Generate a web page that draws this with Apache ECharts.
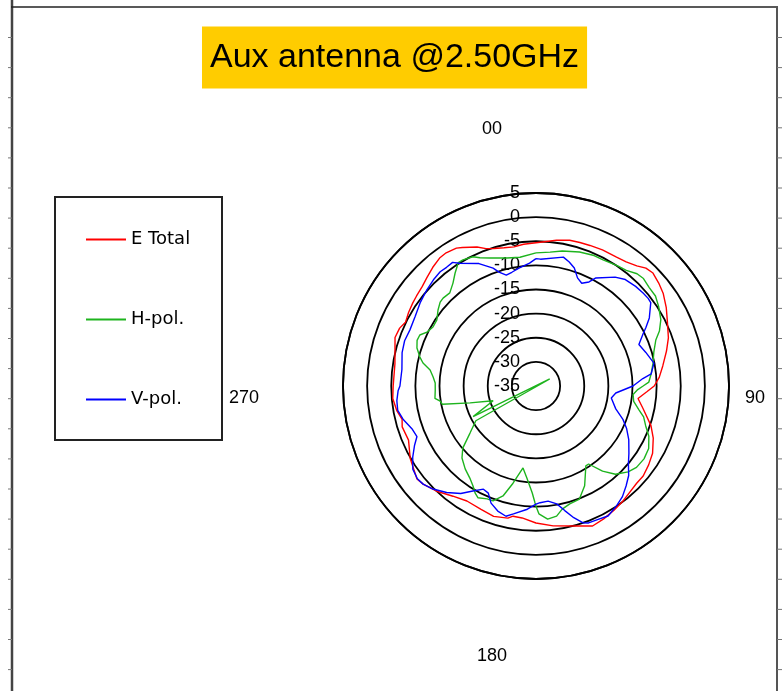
<!DOCTYPE html>
<html>
<head>
<meta charset="utf-8">
<script src="https://cdn.jsdelivr.net/npm/echarts@6/dist/echarts.min.js"></script>
<style>
html,body{margin:0;padding:0;background:#fff;}
#chart{width:782px;height:691px;}
</style>
</head>
<body>
<div id="chart"></div>
<script>
// ---- data (angle in degrees, level in dB) ----
const titleText = 'Aux antenna @2.50GHz';
const seriesNames = ['E Total', 'H-pol.', 'V-pol.'];
const angleTickLabels = ['00', '90', '180', '270'];
const radiusMin = -35, radiusMax = 5, radiusStep = 5;

const eTotal = [
  [0,-5.3],[8,-4.5],[13,-4.0],[17,-3.9],[21,-3.8],[26,-3.6],[32,-3.5],[36,-3.2],[40,-2.5],
  [43,-1.6],[46,-1.3],[50,-1.8],[54,-2.4],[59,-3.5],[64,-4.7],[70,-5.8],[75,-7.0],[81,-8.4],
  [86,-9.4],[90,-10.5],[93,-12.0],[97,-13.7],[102,-12.3],[109,-9.8],[114,-8.4],[120,-7.1],
  [125,-6.5],[130,-6.0],[134,-6.0],[139,-5.6],[143,-5.1],[148,-4.6],[153,-4.1],[158,-3.7],
  [164,-4.8],[173,-5.8],[180,-6.6],[186,-7.5],[190,-7.6],[192,-7.0],[198,-6.6],[204,-7.0],
  [211,-7.2],[217,-6.4],[223,-5.1],[229,-4.0],[232,-3.7],[240,-4.9],[247,-6.3],[253,-6.0],
  [256,-6.4],[260,-5.7],[265,-5.2],[270,-5.4],[279,-5.4],[289,-4.1],[293,-4.3],[296,-4.9],
  [300,-4.5],[304,-4.2],[307,-4.0],[311,-3.7],[315,-3.1],[319,-2.4],[323,-1.8],[326,-1.7],
  [330,-2.0],[332,-2.5],[337,-3.7],[340,-4.7],[343,-5.2],[347,-5.6],[351,-5.8],[355,-5.5],
  [360,-5.3]
];

const hPol = [
  [0,-7.4],[6,-7.1],[11,-6.5],[18,-5.8],[24,-5.4],[28,-5.4],[34,-4.9],[38,-4.6],[42,-3.7],
  [45,-3.5],[49,-3.9],[53,-4.0],[57,-4.7],[62,-5.7],[66,-7.0],[69,-8.4],[74,-9.6],[79,-10.3],
  [84,-11.0],[88,-11.6],[90,-12.8],[92,-13.9],[95,-14.8],[99,-14.5],[103,-13.1],[106,-11.8],
  [110,-10.8],[114,-9.4],[119,-8.3],[124,-8.0],[129,-8.2],[133,-8.9],[138,-10.4],[142,-12.6],
  [146,-15.5],[148,-15.5],[154,-12.0],[159,-9.9],[164,-9.6],[168,-8.9],[171,-7.7],[175,-7.3],
  [178.7,-8.5],[180,-10.1],[180.5,-10.8],[182,-12.8],[185.6,-15.8],[189,-17.8],[193.3,-14.3],
  [196.7,-11.2],[200.5,-9.6],[203.4,-9.5],[207.4,-8.9],[209.7,-9.5],[212.2,-10.5],[215.7,-11.5],
  [220.5,-12.4],[225.8,-13.6],[229.7,-15.1],[234.5,-18.2],[240,-20.6],[243,-38.2],[244,-20.5],
  [251,-25.6],[255.6,-20.9],[259,-15.2],[261,-14.9],[263,-13.9],[267.7,-14.1],[271.7,-14.1],
  [275,-13.6],[278.6,-12.8],[281.5,-11.1],[284,-10.2],[287.7,-9.1],[291,-8.6],[293.7,-8.7],
  [296.3,-9.8],[299.8,-10.4],[303.7,-10.3],[307.8,-9.3],[311.2,-8.6],[313.4,-8.5],[317.2,-8.7],
  [321.1,-7.6],[324.4,-6.2],[326.4,-5.4],[327.6,-4.8],[329.9,-4.8],[334,-5.2],[336.4,-6.0],
  [340.2,-6.8],[347.2,-7.8],[352.9,-8.1],[360,-7.4]
];

const vPol = [
  [0,-8.6],[2,-8.7],[12,-7.7],[15,-8.4],[18,-9.3],[21,-11.0],[24,-11.7],[27,-10.8],[29,-9.4],
  [36,-7.1],[40,-6.2],[45,-5.8],[49,-5.6],[52,-5.5],[54,-5.6],[59,-7.6],[62,-9.2],[64,-10.3],
  [68,-12.0],[73,-11.2],[79,-10.1],[84,-11.0],[86,-12.8],[90,-14.9],[95,-18.4],[99,-19.2],
  [106,-17.8],[111,-15.7],[115,-14.3],[120,-12.8],[126,-11.2],[130,-10.0],[134,-8.3],[138,-7.1],
  [142,-5.9],[146,-5.1],[151,-4.2],[155,-4.5],[159,-4.6],[161,-5.0],[164,-6.6],[167,-8.5],
  [170,-10.2],[174,-11.0],[178,-10.8],[180,-10.5],[184,-9.4],[190,-8.1],[193,-7.3],[197,-7.9],
  [201,-9.0],[204,-10.7],[207,-11.0],[211,-9.6],[215,-7.8],[220,-6.2],[225,-4.8],[229,-4.0],
  [232,-3.8],[236,-4.2],[240,-5.5],[244,-7.0],[247,-8.2],[251,-7.8],[256,-6.6],[260,-5.9],
  [264,-6.0],[268,-6.4],[270,-6.8],[277,-7.0],[284,-6.4],[289,-6.2],[294,-6.4],[300,-6.1],
  [306,-5.4],[311,-4.9],[316,-4.4],[320,-4.1],[323,-4.2],[326,-4.1],[328,-5.0],[335,-7.0],
  [340,-9.0],[342,-10.2],[345,-11.2],[348,-10.9],[352,-10.3],[357,-9.5],[360,-8.6]
];

const seriesData = [eTotal, hPol, vPol];
const seriesColors = ['#ff0000', '#1eb41e', '#0000ff'];

// ---- chart ----
const chart = echarts.init(document.getElementById('chart'), null, {renderer: 'canvas'});

const frameTicks = [];
for (let y = 37.5; y < 691; y += 30.1) {
  frameTicks.push({type: 'line', shape: {x1: 8, y1: y, x2: 12, y2: y}, style: {stroke: '#777', lineWidth: 1}, silent: true});
  frameTicks.push({type: 'line', shape: {x1: 777, y1: y, x2: 782, y2: y}, style: {stroke: '#777', lineWidth: 1}, silent: true});
}

const angleLabelPos = [[492, 129], [755, 398], [492, 656], [244, 398]];

const option = {
  animation: false,
  backgroundColor: '#ffffff',
  title: {
    text: titleText,
    left: 202,
    top: 27,
    backgroundColor: '#ffcc00',
    padding: [14, 8, 14, 8],
    textStyle: {
      fontFamily: 'Liberation Sans, Arial, sans-serif',
      fontSize: 34,
      fontWeight: 'normal',
      color: '#000',
      lineHeight: 33
    }
  },
  legend: {
    data: seriesNames,
    orient: 'vertical',
    left: 81,
    top: 225,
    itemGap: 61,
    itemWidth: 40,
    itemHeight: 2,
    icon: 'rect',
    textStyle: {fontFamily: 'DejaVu Sans, sans-serif', fontSize: 18, color: '#000', lineHeight: 19},
    selectedMode: false
  },
  polar: {center: [536, 386], radius: 193},
  angleAxis: {
    type: 'value',
    min: 0,
    max: 360,
    startAngle: 90,
    clockwise: true,
    axisLine: {show: true, lineStyle: {color: '#000', width: 1.8}},
    axisTick: {show: false},
    axisLabel: {show: false},
    splitLine: {show: false}
  },
  radiusAxis: {
    type: 'value',
    min: radiusMin,
    max: radiusMax,
    interval: radiusStep,
    axisLine: {show: false},
    axisTick: {show: false},
    axisLabel: {
      show: true,
      margin: 16,
      color: '#000',
      fontFamily: 'Liberation Sans, Arial, sans-serif',
      fontSize: 18
    },
    splitLine: {show: true, lineStyle: {color: '#000', width: 1.8}},
    z: 1
  },
  graphic: [
    {type: 'line', shape: {x1: 12, y1: 0, x2: 12, y2: 691}, style: {stroke: '#444', lineWidth: 2.5}, silent: true},
    {type: 'line', shape: {x1: 11, y1: 7, x2: 778, y2: 7}, style: {stroke: '#222', lineWidth: 1.5}, silent: true},
    {type: 'line', shape: {x1: 777, y1: 7, x2: 777, y2: 691}, style: {stroke: '#555', lineWidth: 2}, silent: true},
    ...frameTicks,
    {type: 'rect', shape: {x: 55, y: 197, width: 167, height: 243}, style: {fill: 'none', stroke: '#222', lineWidth: 2}, silent: true, z: 0},
    ...angleTickLabels.map((t, i) => ({
      type: 'text',
      x: angleLabelPos[i][0], y: angleLabelPos[i][1],
      style: {text: t, fill: '#000', font: '18px "Liberation Sans", Arial, sans-serif', textAlign: 'center', textVerticalAlign: 'middle'},
      silent: true
    }))
  ],
  series: seriesNames.map((name, i) => ({
    name: name,
    type: 'line',
    coordinateSystem: 'polar',
    symbol: 'none',
    showSymbol: false,
    smooth: false,
    clip: false,
    color: seriesColors[i],
    lineStyle: {color: seriesColors[i], width: 1.4},
    data: seriesData[i].map(p => [p[1], p[0]]),
    z: 3
  }))
};
chart.setOption(option);
</script>
</body>
</html>
